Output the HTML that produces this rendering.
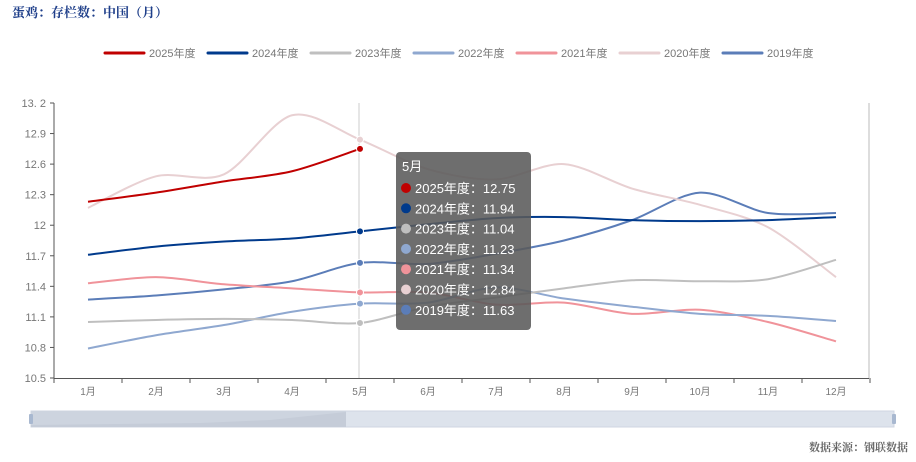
<!DOCTYPE html><html><head><meta charset="utf-8"><style>
body{margin:0;background:#fff;width:916px;height:457px;overflow:hidden;font-family:"Liberation Sans","Noto Sans CJK SC",sans-serif}
</style></head><body>
<svg id="s" width="916" height="457" xmlns="http://www.w3.org/2000/svg" font-family="Liberation Sans, Noto Sans CJK SC, sans-serif">
<text x="12" y="17" font-size="13" font-weight="bold" fill="#1f3f8a" font-family="Noto Serif CJK SC, serif">蛋鸡：存栏数：中国（月）</text>
<text x="908" y="451" font-size="11" font-weight="bold" fill="#666" text-anchor="end" font-family="Noto Serif CJK SC, serif">数据来源：钢联数据</text>
<g id="g"></g>
</svg>
<script>
const g=document.getElementById('g');let h='';
const Y=v=>103+(13.2-v)*101.85, X=i=>88+68*i;
// legend
const L=[["2025年度","#c00000"],["2024年度","#003a8c"],["2023年度","#bfbfbf"],["2022年度","#8fa8d0"],["2021年度","#f0939a"],["2020年度","#e8d0d2"],["2019年度","#5b7db8"]];
let lx=105;L.forEach(([n,c])=>{h+=`<line x1="${lx}" y1="53" x2="${lx+39}" y2="53" stroke="${c}" stroke-width="3" stroke-linecap="round"/><text x="${lx+44}" y="57" font-size="11" fill="#777">${n}</text>`;lx+=103;});
// axes
for(let k=0;k<=9;k++){const v=10.5+k*0.3,y=Y(v);h+=`<line x1="50" y1="${y}" x2="54" y2="${y}" stroke="#555"/><text x="46" y="${y+4}" font-size="11" fill="#777" text-anchor="end">${(Math.round(v*10)/10).toString().replace(/^12$/,'12').replace(/^13\.2$/,'13. 2')}</text>`;}
h+=`<line x1="54" y1="103" x2="54" y2="378" stroke="#555"/><line x1="869" y1="103" x2="869" y2="378" stroke="#bbb"/><line x1="54" y1="378.5" x2="869" y2="378.5" stroke="#555"/>`;
for(let i=0;i<=12;i++)h+=`<line x1="${54+68*i}" y1="378" x2="${54+68*i}" y2="383" stroke="#555"/>`;
for(let i=0;i<12;i++)h+=`<text x="${X(i)}" y="395" font-size="10" fill="#777" text-anchor="middle">${i+1}月</text>`;
h+=`<line x1="359" y1="103" x2="359" y2="378" stroke="#ccc"/>`;
const D=[
[[12.23,12.32,12.43,12.53,12.75],"#c00000"],
[[11.71,11.79,11.84,11.87,11.94,12.01,12.07,12.08,12.05,12.04,12.05,12.08],"#003a8c"],
[[11.05,11.07,11.08,11.07,11.04,11.2,11.29,11.38,11.46,11.45,11.47,11.66],"#bfbfbf"],
[[10.79,10.92,11.02,11.15,11.23,11.24,11.39,11.28,11.2,11.13,11.11,11.06],"#8fa8d0"],
[[11.43,11.49,11.42,11.38,11.34,11.34,11.22,11.24,11.13,11.17,11.05,10.86],"#f0939a"],
[[12.17,12.48,12.5,13.08,12.84,12.55,12.45,12.6,12.36,12.2,11.98,11.49],"#e8d0d2"],
[[11.27,11.31,11.37,11.45,11.63,11.62,11.72,11.85,12.05,12.32,12.12,12.12],"#5b7db8"]];
function path(a){const p=a.map((v,i)=>[X(i),Y(v)]);let d=`M${p[0]}`;for(let i=0;i<p.length-1;i++){const p0=p[i-1]||p[i],p1=p[i],p2=p[i+1],p3=p[i+2]||p2,t=0.3;d+=` C${p1[0]+(p2[0]-p0[0])*t/1.5*0.5*1.5/1},${p1[1]+(p2[1]-p0[1])*t/2} ${p2[0]-(p3[0]-p1[0])*t/2},${p2[1]-(p3[1]-p1[1])*t/2} ${p2}`;}return d;}
D.slice().reverse().forEach(([a,c])=>{h+=`<path d="${path(a)}" fill="none" stroke="${c}" stroke-width="2"/>`;h+=`<circle cx="${X(4)}" cy="${Y(a[4])}" r="3.5" fill="${c}" stroke="#fff" stroke-width="1"/>`;});
// tooltip
h+=`<rect x="396" y="152" width="135" height="178" rx="4" fill="rgba(90,90,90,0.88)"/><text x="402" y="171" font-size="13" fill="#fff">5月</text>`;
D.forEach(([a,c],k)=>{const y=188+20.3*k;h+=`<circle cx="406" cy="${y}" r="5" fill="${c}"/><text x="415" y="${y+5}" font-size="13" fill="#fff">${L[k][0]}：${a[4].toFixed(2)}</text>`;});
// datazoom
h+=`<rect x="31" y="411" width="863" height="16" fill="#dde3ec" stroke="#cfd6e2"/><rect x="31" y="411" width="315" height="16" fill="#cdd4df"/><path d="M31 425 L200 423 L270 420 L346 412 L346 427 L31 427Z" fill="#c5ccd8"/><rect x="29" y="414" width="4" height="10" rx="1" fill="#a8b8d0"/><rect x="892" y="414" width="4" height="10" rx="1" fill="#a8b8d0"/>`;
g.innerHTML=h;
</script>
</body></html>
